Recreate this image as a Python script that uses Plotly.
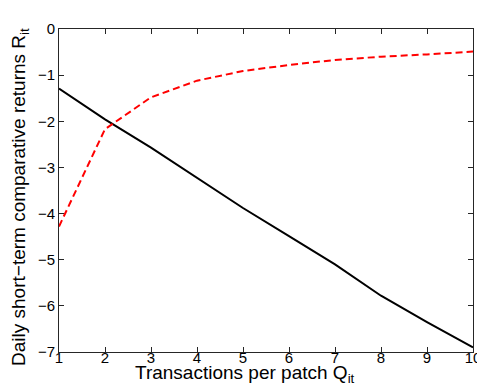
import plotly.graph_objects as go

transactions = [1, 2, 3, 4, 5, 6, 7, 8, 9, 10]
returns_solid = [-1.29, -1.96, -2.57, -3.23, -3.88, -4.49, -5.10, -5.78, -6.35, -6.90]
returns_dashed = [-4.28, -2.17, -1.48, -1.12, -0.91, -0.78, -0.67, -0.60, -0.55, -0.49]

fig = go.Figure()
fig.add_trace(go.Scatter(x=transactions, y=returns_solid, mode="lines",
                         line=dict(color="black", width=2), showlegend=False))
fig.add_trace(go.Scatter(x=transactions, y=returns_dashed, mode="lines",
                         line=dict(color="#ff0000", width=2, dash="7px,4px"), showlegend=False))

axis_style = dict(
    showgrid=False, zeroline=False, showline=True, linecolor="#262626", linewidth=1,
    mirror="ticks", ticks="inside", ticklen=5, tickcolor="#262626",
    tickfont=dict(size=15, color="black"),
)

fig.update_layout(
    width=485, height=390,
    margin=dict(l=51, r=12, t=12, b=46),
    paper_bgcolor="white", plot_bgcolor="white",
    font=dict(family="Liberation Sans, Arial, sans-serif", color="black"),
    xaxis=dict(range=[1, 10], dtick=1, ticklabelstandoff=-8, **axis_style),
    yaxis=dict(range=[-7, 0], dtick=1, **axis_style),
    annotations=[
        dict(text="Transactions per patch Q<sub>it</sub>", xref="paper", yref="paper",
             x=0.45, y=0, yshift=-8, xanchor="center", yanchor="top",
             showarrow=False, font=dict(size=19)),
        dict(text="Daily short\u2212term comparative returns R<sub>it</sub>", xref="paper", yref="paper",
             x=0, y=0.48, xshift=-39, xanchor="center", yanchor="middle", textangle=-90,
             showarrow=False, font=dict(size=19)),
    ],
)

fig.write_html("out.html")
